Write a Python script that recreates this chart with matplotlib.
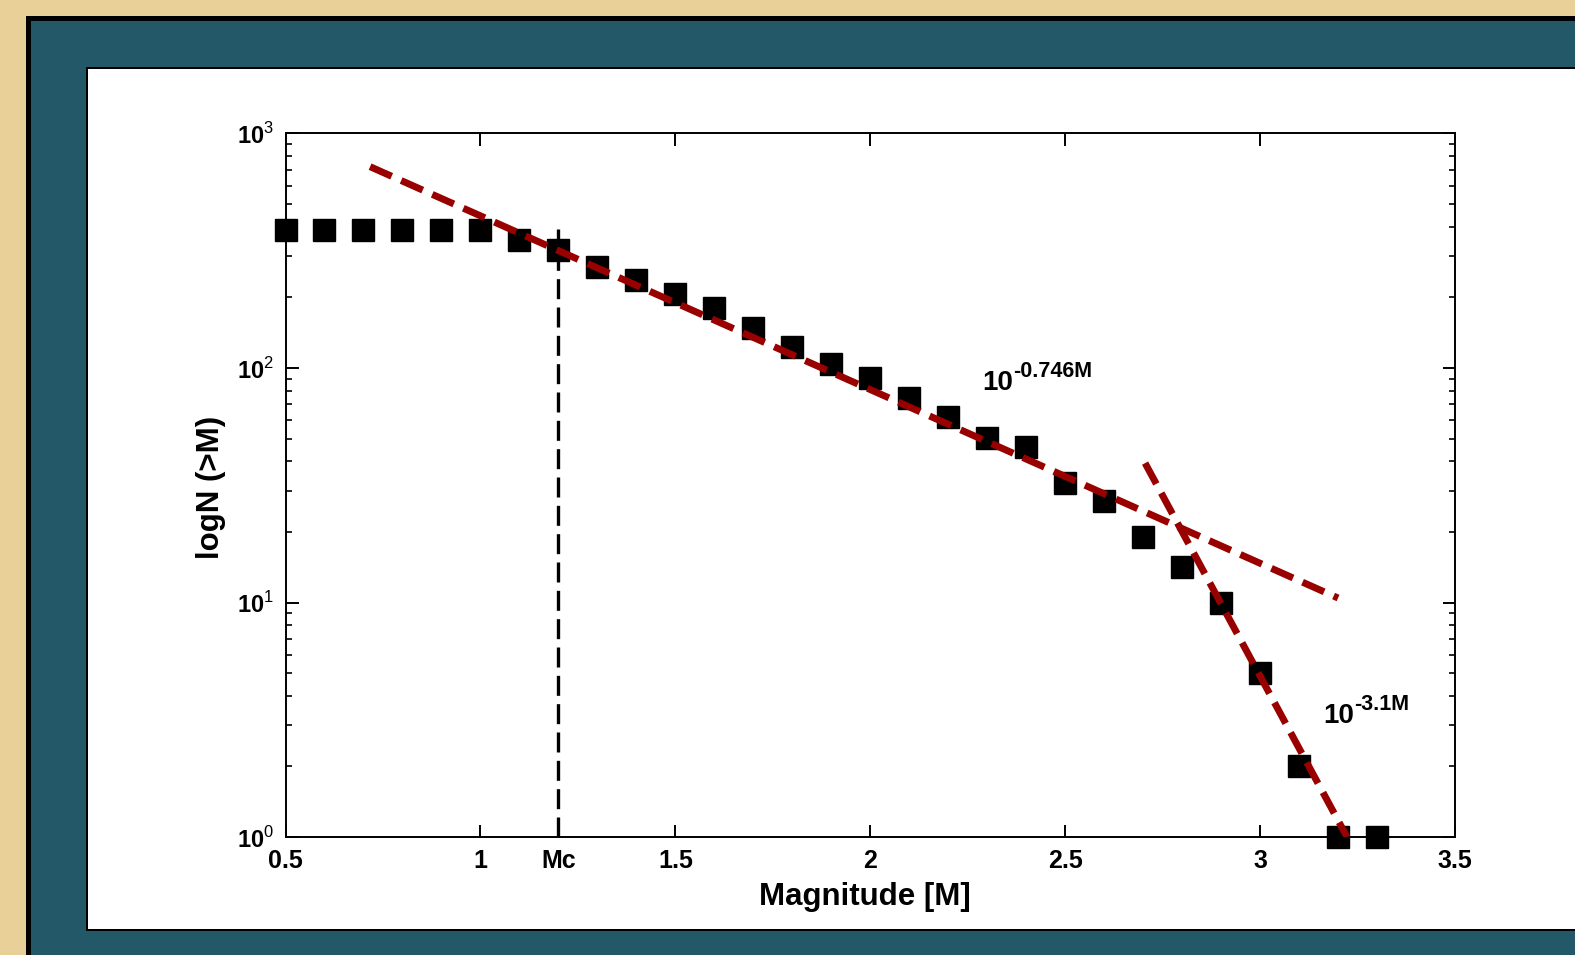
import matplotlib
matplotlib.use('Agg')
import matplotlib.pyplot as plt
from matplotlib.patches import Rectangle
from matplotlib.ticker import FixedLocator, LogLocator, NullFormatter

plt.rcParams['font.family'] = ['Liberation Sans', 'DejaVu Sans']
plt.rcParams['mathtext.fontset'] = 'custom'
plt.rcParams['mathtext.rm'] = 'Liberation Sans'
plt.rcParams['mathtext.bf'] = 'Liberation Sans:bold'

# ---- data ----
magnitude = [0.5, 0.6, 0.7, 0.8, 0.9, 1.0, 1.1, 1.2, 1.3, 1.4, 1.5, 1.6, 1.7,
             1.8, 1.9, 2.0, 2.1, 2.2, 2.3, 2.4, 2.5, 2.6, 2.7, 2.8, 2.9, 3.0,
             3.1, 3.2, 3.3]
cum_count = [388, 388, 388, 388, 388, 388, 351, 318, 270, 237, 207, 180, 148,
             123, 104, 90.6, 74.4, 61.8, 50.3, 46.0, 32.3, 27.1, 19.0, 14.2, 10.0,
             5.0, 2.0, 1.0, 1.0]

fit1_x = [0.717, 3.20]
fit1_y = [722, 10.45]
fit2_x = [2.705, 3.223]
fit2_y = [39.3, 1.0]

mc_value = 1.2
mc_line_y = [1.0, 390]

xtick_vals = [0.5, 1.0, 1.2, 1.5, 2.0, 2.5, 3.0, 3.5]
xtick_labels = ['0.5', '1', 'Mc', '1.5', '2', '2.5', '3', '3.5']
ytick_vals = [1, 10, 100, 1000]
ytick_labels = [r'$\mathbf{10}^{\mathrm{0}}$', r'$\mathbf{10}^{\mathrm{1}}$',
                r'$\mathbf{10}^{\mathrm{2}}$', r'$\mathbf{10}^{\mathrm{3}}$']

W, H = 1575, 955
fig = plt.figure(figsize=(W / 100, H / 100), dpi=100)
fig.patch.set_facecolor('#e9cf98')

def px_rect(x0, y0, x1, y1, color, z):
    fig.patches.append(Rectangle((x0 / W, 1 - y1 / H), (x1 - x0) / W, (y1 - y0) / H,
                                 transform=fig.transFigure, facecolor=color,
                                 edgecolor='none', zorder=z))

px_rect(26, 16, W, H, '#000000', 0)
px_rect(31, 21, W, H, '#225868', 1)
px_rect(86, 67, W, 931, '#000000', 2)
px_rect(88, 69, W, 929, '#ffffff', 3)

AX_L, AX_R, AX_T, AX_B = 285.5, 1455, 133.5, 837
ax = fig.add_axes([AX_L / W, 1 - AX_B / H, (AX_R - AX_L) / W, (AX_B - AX_T) / H])
ax.set_zorder(5)
ax.set_facecolor('white')

ax.plot(magnitude, cum_count, linestyle='none', marker='s', markersize=15.5,
        color='black', markeredgewidth=1, zorder=3, clip_on=False)
l1, = ax.plot(fit1_x, fit1_y, color='#990000', lw=5, linestyle='--', zorder=4)
l1.set_dashes((3.4, 1.5))
l1.set_dash_capstyle('butt')
l2, = ax.plot(fit2_x, fit2_y, color='#990000', lw=5, linestyle='--', zorder=4)
l2.set_dashes((3.4, 1.5))
l2.set_dash_capstyle('butt')
l3, = ax.plot([mc_value, mc_value], mc_line_y, color='black', lw=2.4, zorder=2)
l3.set_dashes((6.0, 2.5))

ax.set_yscale('log')
ax.set_xlim(0.5, 3.5)
ax.set_ylim(1, 1000)

ax.xaxis.set_major_locator(FixedLocator(xtick_vals))
ax.set_xticklabels(xtick_labels, fontsize=18, fontweight='bold')
ax.yaxis.set_major_locator(FixedLocator(ytick_vals))
ax.set_yticklabels(ytick_labels, fontsize=17)
ax.yaxis.set_minor_locator(LogLocator(base=10, subs=range(2, 10)))
ax.yaxis.set_minor_formatter(NullFormatter())

ax.tick_params(axis='both', which='major', direction='in', length=9, width=1.4,
               top=True, right=True)
ax.tick_params(axis='y', which='minor', direction='in', length=4.5, width=1.2,
               left=True, right=True)
ax.tick_params(axis='x', which='major', pad=8.5)
ax.tick_params(axis='y', which='major', pad=8)
for s in ax.spines.values():
    s.set_linewidth(1.4)

mc_tick = ax.xaxis.get_major_ticks()[2]
mc_tick.tick1line.set_visible(False)
mc_tick.tick2line.set_visible(False)

ax.set_xlabel('Magnitude [M]', fontsize=22.5, fontweight='bold')
ax.xaxis.set_label_coords(0.4955, -0.064)
ax.set_ylabel('logN (>M)', fontsize=22.5, fontweight='bold')
ax.yaxis.set_label_coords(-0.051, 0.497)

# annotations
ax.annotate('10', xy=(2.287, 80.5), fontsize=20, fontweight='bold',
            ha='left', va='baseline')
ax.annotate('-0.746M', xy=(2.287, 80.5), xytext=(22, 9.2), textcoords='offset points',
            fontsize=15.5, fontweight='bold', ha='left', va='baseline')
ax.annotate('10', xy=(3.162, 3.06), fontsize=20, fontweight='bold',
            ha='left', va='baseline')
ax.annotate('-3.1M', xy=(3.162, 3.06), xytext=(22, 9.2), textcoords='offset points',
            fontsize=15.5, fontweight='bold', ha='left', va='baseline')

fig.savefig('out.png', dpi=100, facecolor=fig.get_facecolor())
